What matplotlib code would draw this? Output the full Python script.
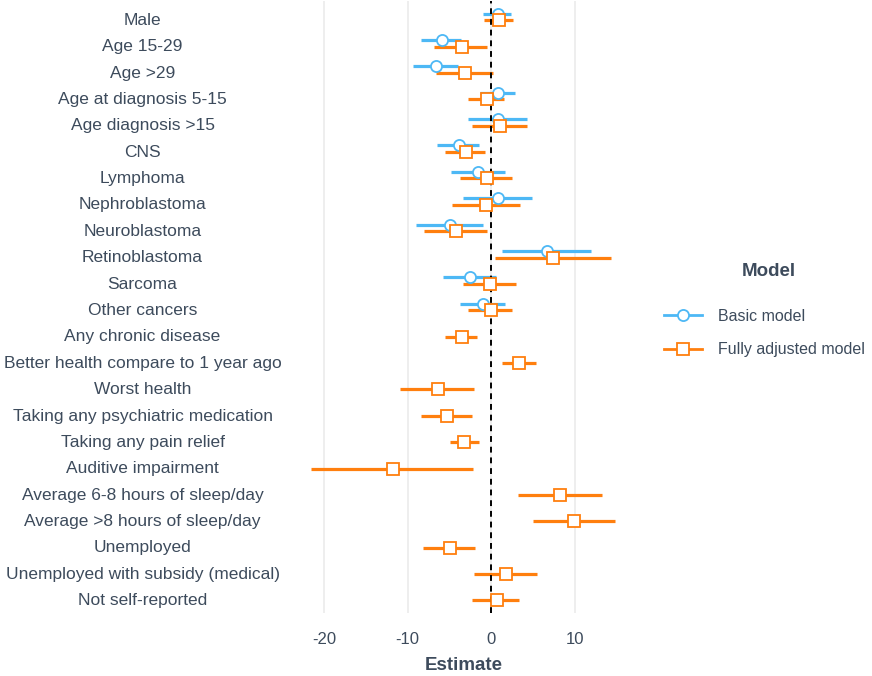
import matplotlib
matplotlib.use("Agg")
import matplotlib.pyplot as plt
import matplotlib.transforms as mtransforms
from matplotlib.lines import Line2D
import numpy as np

plt.rcParams['font.family'] = ['Liberation Sans', 'DejaVu Sans']

terms = [
    "Male", "Age 15-29", "Age >29", "Age at diagnosis 5-15", "Age diagnosis >15",
    "CNS", "Lymphoma", "Nephroblastoma", "Neuroblastoma", "Retinoblastoma",
    "Sarcoma", "Other cancers", "Any chronic disease",
    "Better health compare to 1 year ago", "Worst health",
    "Taking any psychiatric medication", "Taking any pain relief",
    "Auditive impairment", "Average 6-8 hours of sleep/day",
    "Average >8 hours of sleep/day", "Unemployed",
    "Unemployed with subsidy (medical)", "Not self-reported",
]

# Basic model (first 12 terms only)
basic_est = [0.84, -5.93, -6.61, 0.80, 0.80, -3.83, -1.59, 0.80, -4.94, 6.70, -2.58, -0.96]
basic_lo = [-1.03, -8.41, -9.33, -1.35, -2.79, -6.46, -4.86, -3.42, -9.04, 1.24, -5.82, -3.74]
basic_hi = [2.32, -3.63, -3.95, 2.83, 4.23, -1.51, 1.67, 4.90, -1.03, 11.96, 0.56, 1.67]

# Fully adjusted model (all terms)
adj_est = [0.96, -3.54, -3.15, -0.55, 1.04, -3.06, -0.55, -0.63, -4.26, 7.38, -0.16, -0.08,
           -3.54, 3.35, -6.41, -5.30, -3.23, -11.72, 8.18, 9.93, -4.94, 1.76, 0.64]
adj_lo = [-0.84, -6.82, -6.61, -2.79, -2.31, -5.50, -3.74, -4.70, -8.09, 0.40, -3.42, -2.75,
          -5.50, 1.24, -10.96, -8.37, -4.98, -21.53, 3.19, 4.95, -8.21, -2.11, -2.27]
adj_hi = [2.63, -0.55, 0.24, 1.52, 4.23, -0.75, 2.48, 3.43, -0.55, 14.35, 2.95, 2.48,
          -1.67, 5.35, -2.03, -2.34, -1.51, -2.15, 13.24, 14.83, -1.91, 5.50, 3.28]

x_ticks = [-20, -10, 0, 10]
model_names = ["Basic model", "Fully adjusted model"]

blue = "#4DB8F5"
orange = "#FF7F0E"
text_col = "#3D4B5C"

W, H = 872, 676
fig = plt.figure(figsize=(W / 100, H / 100), dpi=100)
left, right, top, bottom = 296, 630.5, 1, 613
ax = fig.add_axes([left / W, 1 - bottom / H, (right - left) / W, (bottom - top) / H])

n = len(terms)
y = np.arange(n)
dodge = 0.125

yb = y[:len(basic_est)] - dodge
ya = y + dodge

be = np.array(basic_est)
ax.errorbar(be, yb, xerr=[be - np.array(basic_lo), np.array(basic_hi) - be],
            fmt='none', ecolor=blue, elinewidth=2.3, capsize=0, zorder=3)
ae = np.array(adj_est)
ax.errorbar(ae, ya, xerr=[ae - np.array(adj_lo), np.array(adj_hi) - ae],
            fmt='none', ecolor=orange, elinewidth=2.3, capsize=0, zorder=3)
ax.plot(be, yb, 'o', ms=8, mfc='white', mec=blue, mew=1.3, zorder=5, ls='none')
ax.plot(ae, ya, 's', ms=8, mfc='white', mec=orange, mew=1.3, zorder=5, ls='none')

ax.axvline(0, color='black', ls=(0, (3, 2.5)), lw=1.4, zorder=4)

data_min = min(min(basic_lo), min(adj_lo))
data_max = max(max(basic_hi), max(adj_hi))
span = data_max - data_min
ax.set_xlim(data_min - 0.05 * span, data_max + 0.05 * span)
ax.set_ylim(n - 1 + 0.6, -0.6)

ax.set_xticks(x_ticks)
ax.set_xticklabels([str(t) for t in x_ticks])
ax.set_yticks(y)
ax.set_yticklabels(terms, ha='center')
ax.tick_params(axis='y', length=0, pad=0, labelsize=12.5, labelcolor=text_col)
ax.tick_params(axis='x', length=0, pad=14, labelsize=12, labelcolor=text_col)
shift = mtransforms.ScaledTranslation(0, -2 / 100, fig.dpi_scale_trans)
for lab in ax.get_yticklabels():
    lab.set_x(-(left - 142.5) / (right - left))
    lab.set_transform(lab.get_transform() + shift)
ax.grid(axis='x', color='#EBEBEB', lw=1.2, zorder=0)
ax.set_axisbelow(True)
for s in ax.spines.values():
    s.set_visible(False)

ax.set_xlabel("Estimate", fontsize=13.5, fontweight='bold', color=text_col, labelpad=7)

# Legend: title placed separately, keys below it
fig.text(769 / W, 1 - 271 / H, "Model", ha='center', va='center',
         fontsize=13.5, fontweight='bold', color=text_col)
handles = [
    Line2D([0], [0], color=blue, lw=2, marker='o', ms=8, mfc='white', mec=blue, mew=1.3),
    Line2D([0], [0], color=orange, lw=2, marker='s', ms=8, mfc='white', mec=orange, mew=1.3),
]
leg = fig.legend(handles, model_names, loc='upper left',
                 bbox_to_anchor=(664 / W, 1 - 309 / H), frameon=False,
                 fontsize=11.5, handlelength=2.4, labelspacing=1.15,
                 handletextpad=1.0, borderaxespad=0, borderpad=0)
for t in leg.get_texts():
    t.set_color(text_col)

fig.savefig("out.png", dpi=100)
